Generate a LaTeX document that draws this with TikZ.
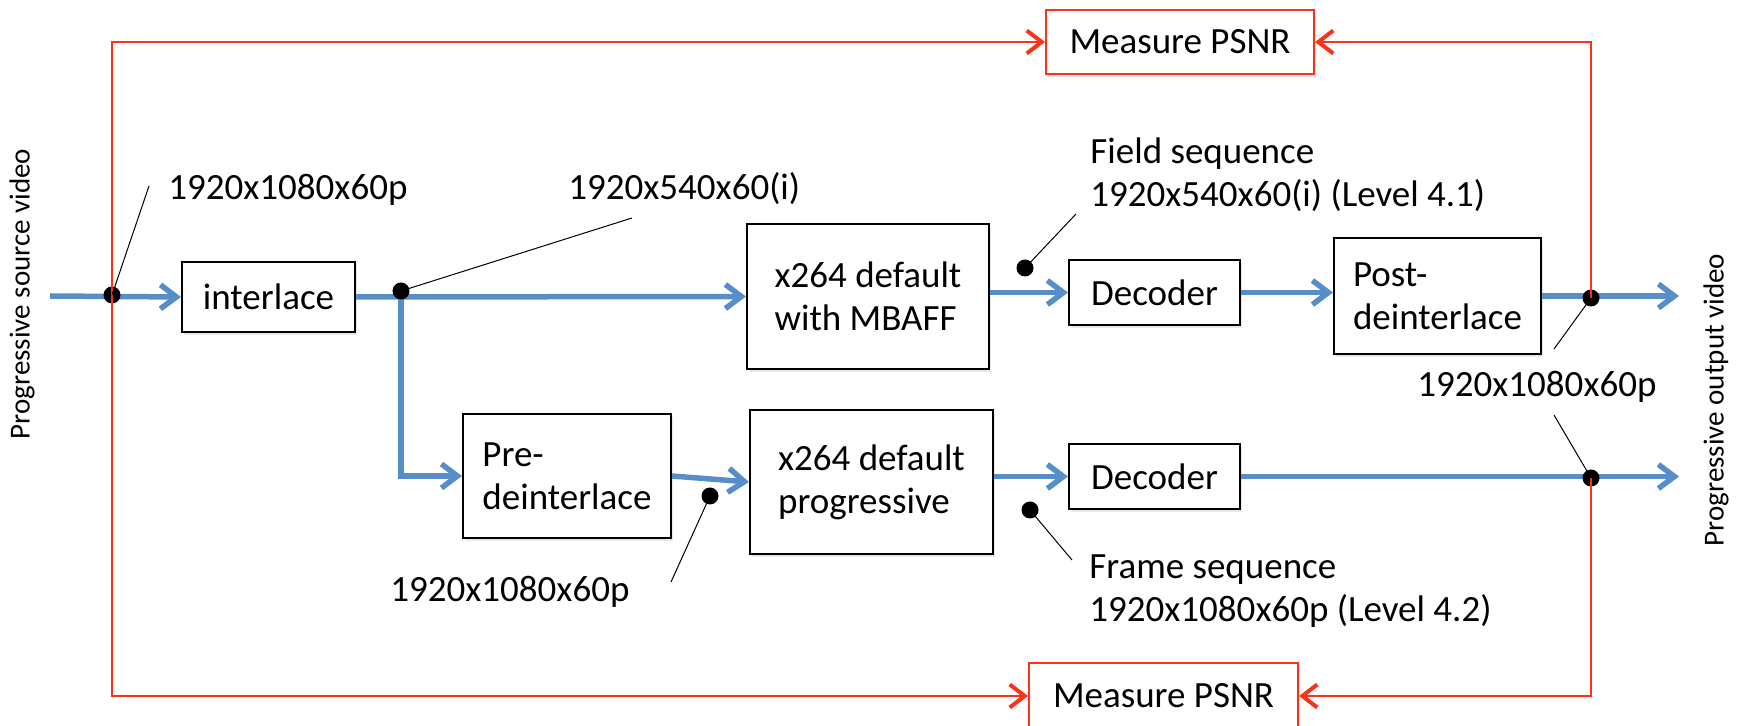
\documentclass[tikz,border=0pt]{standalone}
\usepackage{fontspec}
\setmainfont{Carlito}
\usetikzlibrary{arrows.meta,shadows}
\definecolor{flowblue}{RGB}{88,142,200}
\definecolor{psnrred}{RGB}{250,50,25}
\begin{document}
\begin{tikzpicture}[x=0.5pt,y=-0.5pt,
  every node/.style={font=\fontsize{18.5}{21.5}\selectfont, inner sep=0pt},
  box/.style={draw=black, line width=1pt, fill=white, align=left,
    drop shadow={shadow xshift=1pt, shadow yshift=-1.5pt, opacity=0.18}},
  redbox/.style={draw=psnrred, line width=1pt, fill=white,
    drop shadow={shadow xshift=1pt, shadow yshift=-1.5pt, opacity=0.18}},
  flow/.style={draw=flowblue, line width=2.75pt, -{Straight Barb[length=8pt,width=12pt]}},
  psnr/.style={draw=psnrred, line width=0.8pt, -{Straight Barb[length=7.5pt,width=11.5pt,line width=2pt]}},
  dot/.style={circle, fill=black, minimum size=8.5pt},
  leader/.style={draw=black, line width=0.5pt},
  lbl/.style={anchor=base west, align=left},
  side/.style={rotate=90, font=\fontsize{14.5}{17}\selectfont}
]
\useasboundingbox (0,0) rectangle (1746,726);

% boxes
\node[box, minimum width=86.5pt, minimum height=35pt] (inter) at (268.5,297) {interlace};
\node[box, minimum width=121pt, minimum height=72.5pt] (xm) at (868,296.5) {x264 default\\with MBAFF};
\node[box, minimum width=85.5pt, minimum height=32.5pt] (dec1) at (1154.5,292.5) {Decoder};
\node[box, minimum width=103.5pt, minimum height=58pt] (post) at (1437.5,296) {Post-\\deinterlace};
\node[box, minimum width=104pt, minimum height=62pt] (pre) at (567,476) {Pre-\\deinterlace};
\node[box, minimum width=121.5pt, minimum height=72pt] (xp) at (871.5,482) {x264 default\\progressive};
\node[box, minimum width=85.5pt, minimum height=32.5pt] (dec2) at (1154.5,476.5) {Decoder};
\node[redbox, minimum width=134pt, minimum height=32pt] (m1) at (1180,42) {Measure PSNR};
\node[redbox, minimum width=134.5pt, minimum height=33pt] (m2) at (1163.5,696) {Measure PSNR};

% side labels
\node[side] (src) at (22,294) {Progressive source video};
\node[side] (outv) at (1716,400) {Progressive output video};

% free ends
\coordinate (in1) at (50,296);
\coordinate (split) at (401,296);
\coordinate (out1) at (1679,296);
\coordinate (out2) at (1679,476.5);

% blue flow
\draw[flow] (in1) -- (inter.west);
\draw[flow] (inter.east) -- (xm.west);
\draw[flow] (split) |- (pre.west);
\draw[flow] (xm.east |- dec1.west) -- (dec1.west);
\draw[flow] (dec1.east) -- (post.west |- dec1.east);
\draw[flow] (post.east) -- (out1);
\draw[flow] (pre.east) -- (xp.west);
\draw[flow] (xp.east |- dec2.west) -- (dec2.west);
\draw[flow] (dec2.east) -- (out2);

% dots
\node[dot] (d1) at (112,295) {};
\node[dot] (d2) at (401,291) {};
\node[dot] (d3) at (1025,268) {};
\node[dot] (d4) at (1591,298) {};
\node[dot] (d5) at (710,496) {};
\node[dot] (d6) at (1030,510) {};
\node[dot] (d7) at (1591,478) {};

% red PSNR paths
\draw[psnr] (d1.center) |- (m1.west);
\draw[psnr] (d1.center) |- (m2.west);
\draw[psnr] (d4.center) |- (m1.east);
\draw[psnr] (d7.center) |- (m2.east);

% leaders
\coordinate (l1) at (149,186);
\coordinate (l2) at (632,218);
\coordinate (l3) at (1076,214);
\coordinate (l4) at (1554,349);
\coordinate (l5) at (671,582);
\coordinate (l6) at (1072,560);
\coordinate (l7) at (1554,415);
\draw[leader] (d1.center) -- (l1);
\draw[leader] (d2.center) -- (l2);
\draw[leader] (d3.center) -- (l3);
\draw[leader] (d4.center) -- (l4);
\draw[leader] (d5.center) -- (l5);
\draw[leader] (d6.center) -- (l6);
\draw[leader] (d7.center) -- (l7);

% labels (multi-line: base = last line)
\node[lbl] (t1) at (168,200) {1920x1080x60p};
\node[lbl] (t2) at (568,200) {1920x540x60(i)};
\node[lbl] (t3) at (1090,207) {Field sequence\\1920x540x60(i) (Level 4.1)};
\node[lbl] (t4) at (1417,397) {1920x1080x60p};
\node[lbl] (t5) at (390,602) {1920x1080x60p};
\node[lbl] (t6) at (1089,622) {Frame sequence\\1920x1080x60p (Level 4.2)};
\end{tikzpicture}
\end{document}
